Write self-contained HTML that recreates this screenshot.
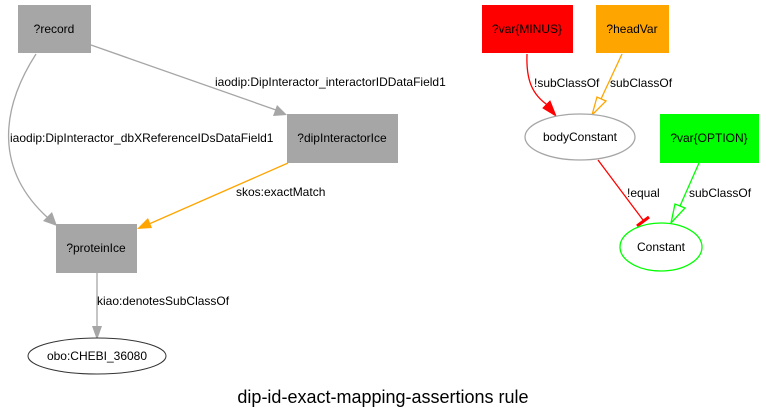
<!DOCTYPE html>
<html><head><meta charset="utf-8"><style>
html,body{margin:0;padding:0;background:#fff;}
svg{display:block;font-family:"Liberation Sans",Arial,sans-serif;}
</style></head><body>
<svg width="766" height="419" viewBox="0 0 766 419" xmlns="http://www.w3.org/2000/svg">
<rect width="766" height="419" fill="#fff"/>
<!-- edges left -->
<g fill="none" stroke="#a6a6a6" stroke-width="1.3">
<path d="M91,45 L276,110"/>
<path d="M36,54 C0,110 -5,170 48,218"/>
<path d="M97,273 L97,328"/>
</g>
<polygon points="287,115 273,116 277,105" fill="#a6a6a6"/>
<polygon points="57,226 43,221 52,212" fill="#a6a6a6"/>
<polygon points="97,340 92,326 102,326" fill="#a6a6a6"/>
<path d="M288,163 L149,224" stroke="#ffa500" stroke-width="1.3" fill="none"/>
<polygon points="137,229 148,218 152,228" fill="#ffa500"/>
<g font-size="12" fill="#000">
<text x="215" y="86">iaodip:DipInteractor_interactorIDDataField1</text>
<text x="10" y="142">iaodip:DipInteractor_dbXReferenceIDsDataField1</text>
<text x="236" y="196">skos:exactMatch</text>
<text x="97" y="305">kiao:denotesSubClassOf</text>
<text x="534" y="87">!subClassOf</text>
<text x="610" y="87">subClassOf</text>
<text x="627" y="197">!equal</text>
<text x="689" y="197">subClassOf</text>
</g>
<!-- right edges -->
<path d="M527,54 C526,80 532,95 549,106" stroke="#f00" stroke-width="1.3" fill="none"/>
<polygon points="556,116 543,108 550,101" fill="#f00" stroke="#f00"/>
<path d="M622,54 L601,99" stroke="#ffa500" stroke-width="1.3" fill="none"/>
<polygon points="592,115 597,97 606,101" fill="#fff" stroke="#ffa500" stroke-width="1.3"/>
<path d="M598,160 L643,220" stroke="#f00" stroke-width="1.3" fill="none"/>
<path d="M637,226 L649,217" stroke="#f00" stroke-width="3"/>
<path d="M699,163 L680,206" stroke="#0f0" stroke-width="1.3" fill="none"/>
<polygon points="671,223 675,204 685,208" fill="#fff" stroke="#0f0" stroke-width="1.3"/>
<!-- nodes -->
<rect x="18" y="5" width="73" height="48" fill="#a6a6a6"/>
<rect x="287" y="114" width="111" height="49" fill="#a6a6a6"/>
<rect x="56" y="224" width="81" height="49" fill="#a6a6a6"/>
<ellipse cx="97" cy="356" rx="69" ry="18" fill="#fff" stroke="#333" stroke-width="1"/>
<rect x="482" y="5" width="91" height="48" fill="#f00"/>
<rect x="596" y="5" width="73" height="48" fill="#ffa500"/>
<ellipse cx="580" cy="137" rx="55" ry="23" fill="#fff" stroke="#a6a6a6" stroke-width="1.3"/>
<rect x="660" y="114" width="99" height="49" fill="#0f0"/>
<ellipse cx="661" cy="247" rx="41" ry="24" fill="#fff" stroke="#0f0" stroke-width="1.3"/>
<g font-size="12" fill="#000" text-anchor="middle">
<text x="54" y="33">?record</text>
<text x="342" y="142">?dipInteractorIce</text>
<text x="96" y="252">?proteinIce</text>
<text x="97" y="360">obo:CHEBI_36080</text>
<text x="527" y="33">?var{MINUS}</text>
<text x="632" y="33">?headVar</text>
<text x="580" y="141">bodyConstant</text>
<text x="709" y="142">?var{OPTION}</text>
<text x="661" y="251">Constant</text>
</g>
<text x="383" y="403" font-size="18" text-anchor="middle" fill="#000">dip-id-exact-mapping-assertions rule</text>
</svg>
</body></html>
